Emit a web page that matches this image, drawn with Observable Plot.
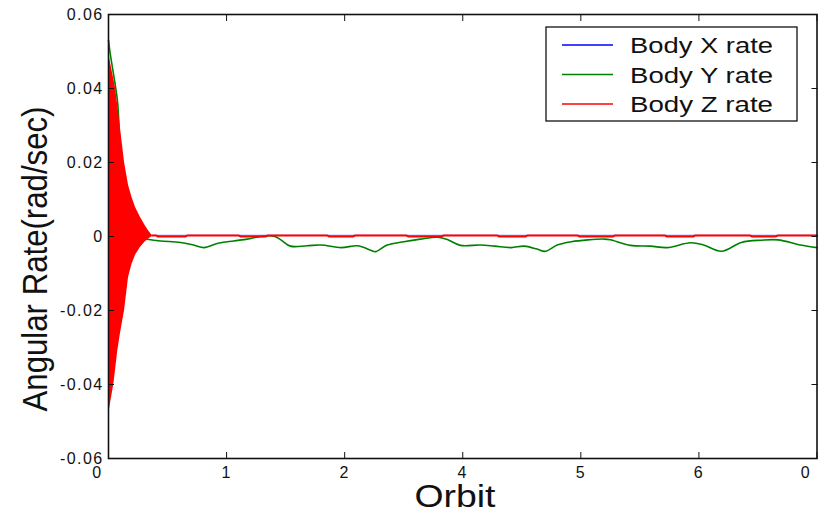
<!DOCTYPE html>
<html><head><meta charset="utf-8">
<script src="https://cdn.jsdelivr.net/npm/d3@7"></script>
<script src="https://cdn.jsdelivr.net/npm/@observablehq/plot@0.6"></script>
<style>
body{margin:0;background:#fff}
#chart svg{font-family:"Liberation Sans",Arial,sans-serif;display:block}
</style>
</head><body><div id="chart"></div>
<script>
// ---- data ----
const xTicks = [0, 1, 2, 3, 4, 5, 6];
const xTickLabels = ["0", "1", "2", "4", "5", "6", "0"];
const yTicks = [-0.06, -0.04, -0.02, 0, 0.02, 0.04, 0.06];
const yTickLabels = ["-0.06", "-0.04", "-0.02", "0", "0.02", "0.04", "0.06"];
const seriesNames = ["Body X rate", "Body Y rate", "Body Z rate"];
const seriesColors = ["#0000ff", "#008000", "#ff0000"];
const xTitle = "Orbit";
const yTitle = "Angular Rate(rad/sec)";

// Body Z rate: envelope of the dense initial oscillation
const zEnvOrbit = [0, 0.02, 0.045, 0.06, 0.078, 0.1, 0.136, 0.17, 0.2, 0.23, 0.27, 0.31, 0.34, 0.37];
const zEnvUpper = [0.0496, 0.0465, 0.0425, 0.040, 0.0355, 0.0296, 0.020, 0.0138, 0.0105, 0.0078, 0.0052, 0.003, 0.0015, 0.0003];
const zEnvLower = [-0.0485, -0.0445, -0.040, -0.036, -0.031, -0.0265, -0.020, -0.011, -0.0074, -0.005, -0.003, -0.0015, -0.0007, 0];

// Body Z rate after the transient
const zOrbit = [0.37, 0.40, 0.42, 0.65, 0.67, 1.10, 1.12, 1.33, 1.35, 1.85, 1.87, 2.07, 2.09, 2.52, 2.54, 2.82, 2.84, 3.29, 3.31, 3.53, 3.55, 3.97, 3.99, 4.27, 4.29, 4.71, 4.73, 4.95, 4.97, 5.43, 5.45, 5.65, 5.67, 6.0];
const zRate = [0.0003, 0.0003, 0, 0, 0.0003, 0.0003, 0, 0, 0.0003, 0.0003, 0, 0, 0.0003, 0.0003, 0, 0, 0.0003, 0.0003, 0, 0, 0.0003, 0.0003, 0, 0, 0.0003, 0.0003, 0, 0, 0.0003, 0.0003, 0, 0, 0.0003, 0.0003];

// Body X rate
const xOrbit = [0, 6];
const xRate = [0.0003, 0.0003];

// Body Y rate
const yOrbit = [0, 0.012, 0.064, 0.078, 0.12, 0.2, 0.3, 0.342, 0.44, 0.61, 0.72, 0.81, 0.92, 1.06, 1.175, 1.29, 1.40, 1.46, 1.54, 1.68, 1.80, 1.97, 2.11, 2.22, 2.26, 2.36, 2.50, 2.64, 2.79, 2.87, 2.98, 3.15, 3.27, 3.41, 3.52, 3.63, 3.70, 3.80, 3.92, 4.06, 4.20, 4.25, 4.42, 4.59, 4.73, 4.93, 5.04, 5.19, 5.36, 5.53, 5.67, 5.86, 6.0];
const yRate = [0.053, 0.050, 0.0395, 0.036, 0.015, 0.002, -0.0005, -0.0008, -0.0012, -0.0016, -0.0023, -0.003, -0.0019, -0.0012, -0.0007, 0, 0.0001, -0.0009, -0.0026, -0.0025, -0.0023, -0.003, -0.0025, -0.0037, -0.0041, -0.0023, -0.0014, -0.0007, -0.0002, -0.0008, -0.0024, -0.0023, -0.0026, -0.003, -0.0026, -0.0034, -0.004, -0.0023, -0.0014, -0.0009, -0.0007, -0.0009, -0.0024, -0.0026, -0.003, -0.0017, -0.0023, -0.004, -0.0016, -0.001, -0.0009, -0.0023, -0.003];

// ---- build tables ----
const env = zEnvOrbit.map((o, i) => ({orbit: o, lo: zEnvLower[i], hi: zEnvUpper[i]}));
const bx = xOrbit.map((o, i) => ({orbit: o, v: xRate[i]}));
const by = yOrbit.map((o, i) => ({orbit: o, v: yRate[i]}));
const bz = zOrbit.map((o, i) => ({orbit: o, v: zRate[i]}));
const xLab = d => xTickLabels[xTicks.indexOf(d)];
const yLab = d => yTickLabels[yTicks.indexOf(d)];
const blank = () => "";

const plot = Plot.plot({
  width: 825,
  height: 513,
  marginLeft: 108,
  marginRight: 8.5,
  marginTop: 14,
  marginBottom: 55,
  style: {fontSize: "16px", fontFamily: "Liberation Sans, Arial, sans-serif", color: "#111", background: "#fff"},
  x: {domain: [0, 6]},
  y: {domain: [-0.06, 0.06]},
  marks: [
    Plot.line(bx, {x: "orbit", y: "v", stroke: seriesColors[0], strokeWidth: 1.2, strokeOpacity: 0.5}),
    Plot.line(by, {x: "orbit", y: "v", stroke: seriesColors[1], strokeWidth: 1.6, curve: "catmull-rom"}),
    Plot.areaY(env, {x: "orbit", y1: "lo", y2: "hi", fill: seriesColors[2], curve: "linear"}),
    Plot.line(bz, {x: "orbit", y: "v", stroke: seriesColors[2], strokeWidth: 2}),
    Plot.frame({stroke: "#111", strokeWidth: 1.6}),
    // inward ticks on all sides
    Plot.axisX(xTicks, {anchor: "bottom", tickSize: 6, dy: -6, tickFormat: blank, label: null}),
    Plot.axisX(xTicks, {anchor: "top", tickSize: 6, dy: 6, tickFormat: blank, label: null}),
    Plot.axisY(yTicks, {anchor: "left", tickSize: 6, dx: 6, tickFormat: blank, label: null}),
    Plot.axisY(yTicks, {anchor: "right", tickSize: 6, dx: -6, tickFormat: blank, label: null}),
    // tick labels
    Plot.axisX(xTicks.slice(1, -1), {anchor: "bottom", tickSize: 0, tickPadding: 8, tickFormat: xLab, label: null, fontSize: 16}),
    Plot.axisX([xTicks[0], xTicks[xTicks.length - 1]], {anchor: "bottom", tickSize: 0, tickPadding: 8, dx: -11, tickFormat: xLab, label: null, fontSize: 16}),
    Plot.axisY(yTicks, {anchor: "left", tickSize: 0, tickPadding: 5, tickFormat: yLab, label: null, fontSize: 16})
  ]
});

const svg = d3.select(plot);
svg.selectAll("g[aria-label='x-axis tick label'] text, g[aria-label='y-axis tick label'] text")
  .style("letter-spacing", "1.4px").attr("fill", "#111");

// axis titles
svg.append("text")
  .attr("transform", "translate(47,259) rotate(-90)")
  .attr("text-anchor", "middle")
  .attr("font-size", 35)
  .attr("fill", "#111")
  .attr("textLength", 305)
  .attr("lengthAdjust", "spacingAndGlyphs")
  .text(yTitle);
svg.append("text")
  .attr("x", 455).attr("y", 507)
  .attr("text-anchor", "middle")
  .attr("font-size", 32)
  .attr("fill", "#111")
  .attr("textLength", 81)
  .attr("lengthAdjust", "spacingAndGlyphs")
  .text(xTitle);

// legend
const lg = svg.append("g");
lg.append("rect").attr("x", 546).attr("y", 27).attr("width", 251).attr("height", 94)
  .attr("fill", "#fff").attr("stroke", "#111").attr("stroke-width", 1.3);
seriesNames.forEach((name, i) => {
  const yy = 45 + i * 29.5;
  lg.append("line").attr("x1", 562).attr("x2", 613).attr("y1", yy).attr("y2", yy)
    .attr("stroke", seriesColors[i]).attr("stroke-width", 1.6);
  lg.append("text").attr("x", 630).attr("y", yy + 8)
    .attr("text-anchor", "start")
    .attr("font-size", 22).attr("fill", "#111")
    .attr("textLength", 143).attr("lengthAdjust", "spacingAndGlyphs")
    .text(name);
});

document.getElementById("chart").appendChild(plot);
</script>
</body></html>
